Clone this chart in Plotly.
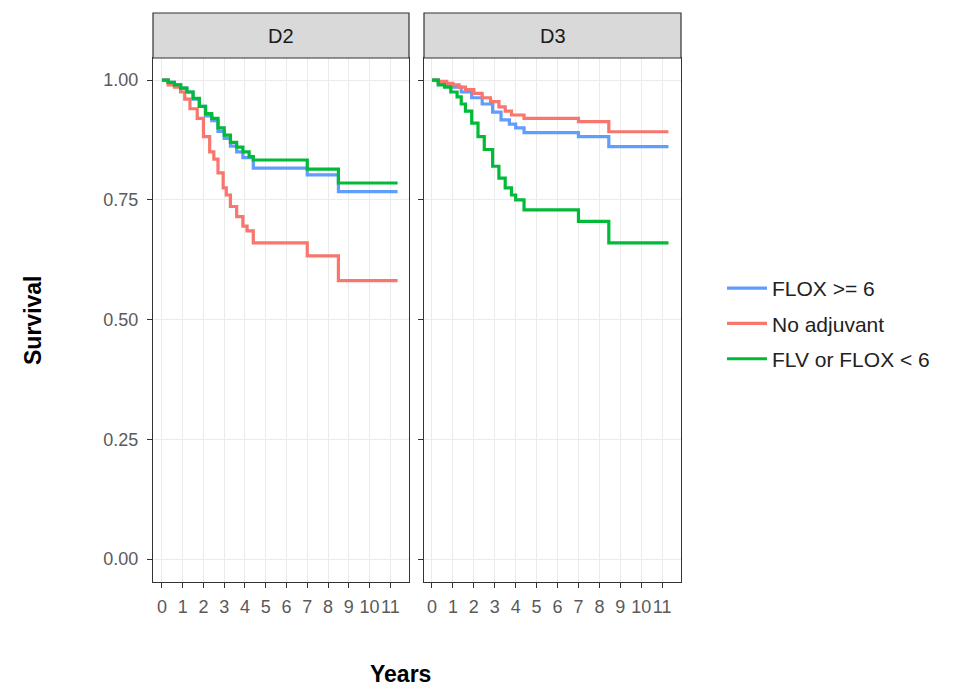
import plotly.graph_objects as go

W, H = 965, 689

panels = ["D2", "D3"]
series_names = ["FLOX >= 6", "No adjuvant", "FLV or FLOX < 6"]
series_colors = ["#619CFF", "#F8766D", "#00BA38"]

# D2 panel
d2_flox_t = [0, 0.3, 0.6, 0.9, 1.2, 1.5, 1.8, 2.1, 2.4, 2.7, 3.0, 3.3, 3.6, 3.9, 4.4, 7.0, 8.5, 11.35]
d2_flox_s = [1, 0.995, 0.99, 0.983, 0.975, 0.96, 0.945, 0.925, 0.915, 0.893, 0.878, 0.862, 0.85, 0.838, 0.816, 0.802, 0.767, 0.767]
d2_noadj_t = [0, 0.3, 0.6, 0.9, 1.1, 1.35, 1.7, 2.0, 2.3, 2.5, 2.7, 2.95, 3.1, 3.3, 3.6, 3.9, 4.1, 4.4, 7.0, 8.5, 11.35]
d2_noadj_s = [1, 0.99, 0.985, 0.975, 0.96, 0.94, 0.92, 0.882, 0.85, 0.835, 0.806, 0.775, 0.76, 0.736, 0.715, 0.695, 0.685, 0.66, 0.633, 0.581, 0.581]
d2_flv_t = [0, 0.3, 0.6, 0.9, 1.2, 1.5, 1.8, 2.1, 2.4, 2.7, 3.0, 3.3, 3.6, 3.9, 4.2, 4.4, 7.0, 8.5, 11.35]
d2_flv_s = [1, 0.995, 0.99, 0.983, 0.975, 0.962, 0.945, 0.93, 0.92, 0.9, 0.885, 0.87, 0.86, 0.85, 0.84, 0.833, 0.814, 0.785, 0.785]

# D3 panel
d3_flox_t = [0, 0.3, 0.7, 1.0, 1.4, 1.9, 2.4, 2.9, 3.3, 3.7, 4.0, 4.4, 7.0, 8.45, 11.3]
d3_flox_s = [1, 0.995, 0.99, 0.985, 0.975, 0.963, 0.95, 0.933, 0.917, 0.908, 0.9, 0.89, 0.882, 0.861, 0.861]
d3_noadj_t = [0, 0.3, 0.7, 1.0, 1.3, 1.6, 2.0, 2.4, 2.8, 3.2, 3.5, 3.8, 4.4, 7.0, 8.45, 11.3]
d3_noadj_s = [1, 0.997, 0.993, 0.99, 0.985, 0.98, 0.972, 0.963, 0.955, 0.944, 0.935, 0.927, 0.92, 0.913, 0.892, 0.892]
d3_flv_t = [0, 0.3, 0.6, 0.9, 1.2, 1.4, 1.6, 1.9, 2.2, 2.5, 2.9, 3.2, 3.5, 3.8, 4.0, 4.4, 7.0, 8.45, 11.3]
d3_flv_s = [1, 0.99, 0.985, 0.975, 0.965, 0.95, 0.935, 0.91, 0.882, 0.855, 0.82, 0.795, 0.775, 0.76, 0.75, 0.729, 0.705, 0.66, 0.66]

x_ticks = list(range(0, 12))
y_ticks = [0, 0.25, 0.5, 0.75, 1.0]
y_ticklabels = ["0.00", "0.25", "0.50", "0.75", "1.00"]

data = {
    "D2": [(d2_flox_t, d2_flox_s), (d2_noadj_t, d2_noadj_s), (d2_flv_t, d2_flv_s)],
    "D3": [(d3_flox_t, d3_flox_s), (d3_noadj_t, d3_noadj_s), (d3_flv_t, d3_flv_s)],
}

FONT = "Liberation Sans, Arial, sans-serif"

fig = go.Figure()
for pi, p in enumerate(panels):
    xa = "x" if pi == 0 else "x2"
    ya = "y" if pi == 0 else "y2"
    for si, (t, s) in enumerate(data[p]):
        fig.add_trace(go.Scatter(
            x=t, y=s, mode="lines", line=dict(color=series_colors[si], width=3.2, shape="hv"),
            name=series_names[si], legendgroup=series_names[si], showlegend=(pi == 0),
            xaxis=xa, yaxis=ya))

def px_x(v):
    return v / W

def px_y(v):
    return 1 - v / H

x1_dom = [px_x(153), px_x(409)]
x2_dom = [px_x(424), px_x(681)]
y_dom = [px_y(582), px_y(58)]

tickfont = dict(family=FONT, size=18, color="#5A5A5A")
common_x = dict(tickmode="array", tickvals=x_ticks, ticktext=[str(v) for v in x_ticks],
                tickangle=0, automargin=False, ticklabelstandoff=3,
                showgrid=True, gridcolor="#EBEBEB", gridwidth=1, zeroline=False,
                showline=True, linecolor="#333333", linewidth=1.2, mirror=True,
                ticks="outside", ticklen=5, tickcolor="#333333", tickfont=tickfont)
common_y = dict(tickmode="array", tickvals=y_ticks, range=[-0.048, 1.046], automargin=False,
                ticklabelstandoff=5,
                showgrid=True, gridcolor="#EBEBEB", gridwidth=1, zeroline=False,
                showline=True, linecolor="#333333", linewidth=1.2, mirror=True,
                ticks="outside", ticklen=5, tickcolor="#333333", tickfont=tickfont)

fig.update_layout(
    width=W, height=H, margin=dict(l=0, r=0, t=0, b=0),
    paper_bgcolor="white", plot_bgcolor="white",
    font=dict(family=FONT),
    xaxis=dict(domain=x1_dom, range=[-0.43, 11.9], anchor="y", **common_x),
    xaxis2=dict(domain=x2_dom, range=[-0.38, 11.9], anchor="y2", **common_x),
    yaxis=dict(domain=y_dom, anchor="x", ticktext=y_ticklabels, **common_y),
    yaxis2=dict(domain=y_dom, anchor="x2", showticklabels=False, ticktext=y_ticklabels, **common_y),
    legend=dict(x=px_x(722), y=px_y(268), xanchor="left", yanchor="top",
                font=dict(family=FONT, size=21, color="#222222"),
                tracegroupgap=5, itemwidth=40, bgcolor="rgba(0,0,0,0)"),
    showlegend=True,
)

# strips
for pi, p in enumerate(panels):
    dom = x1_dom if pi == 0 else x2_dom
    fig.add_shape(type="rect", xref="paper", yref="paper", x0=dom[0], x1=dom[1],
                  y0=px_y(58), y1=px_y(13), fillcolor="#D9D9D9",
                  line=dict(color="#333333", width=1.2), layer="above")
    fig.add_annotation(text=p, xref="paper", yref="paper", x=(dom[0] + dom[1]) / 2,
                       y=px_y(36), xanchor="center", yanchor="middle", showarrow=False,
                       font=dict(family=FONT, size=20, color="#1A1A1A"))

# axis titles
fig.add_annotation(text="<b>Years</b>", xref="paper", yref="paper", x=px_x(400), y=px_y(674),
                   xanchor="center", yanchor="middle",
                   showarrow=False, font=dict(family=FONT, size=23, color="#000000"))
fig.add_annotation(text="<b>Survival</b>", xref="paper", yref="paper", x=px_x(33), y=px_y(320),
                   xanchor="center", yanchor="middle", showarrow=False, textangle=-90,
                   font=dict(family=FONT, size=23, color="#000000"))

fig.write_html("out.html")
